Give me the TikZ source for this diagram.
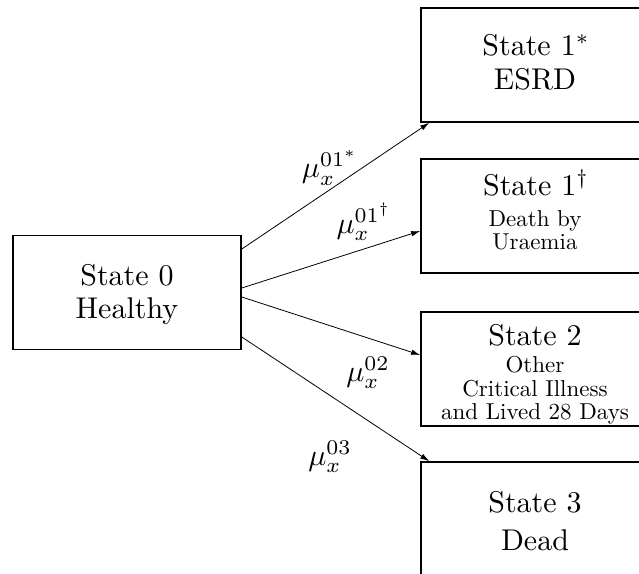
\documentclass[tikz,border=0pt]{standalone}
\usetikzlibrary{arrows.meta}
\begin{document}
\begin{tikzpicture}[x=1pt,y=-1pt,
  statebox/.style={draw, line width=1.6pt, minimum width=228pt, minimum height=114pt, inner sep=0pt},
  big/.style={font=\normalsize, scale=3, anchor=base, inner sep=0pt},
  small/.style={font=\normalsize, scale=2.3, anchor=base, inner sep=0pt},
  rate/.style={font=\normalsize, scale=3, inner sep=0pt},
  trans/.style={line width=0.8pt, -{Latex[length=9pt,width=5.5pt]}}]
\clip (0,0) rectangle (639,573);
% boxes
\node[statebox] (s0)  at (127,292.5) {};
\node[statebox] (s1a) at (535,65) {};
\node[statebox] (s1b) at (535,216) {};
\node[statebox] (s2)  at (535,369) {};
\node[statebox] (s3)  at (535,519) {};
% texts
\node[big] (t0a) at (127,285.7) {State 0};
\node[big] (t0b) at (127,318) {Healthy};
\node[big] (t1a) at (536,55.7) {State 1$^*$};
\node[big] (t1b) at (535,89) {ESRD};
\node[big] (t2a) at (536,195.5) {State 1$^\dagger$};
\node[small] (t2b) at (535,226.5) {Death by};
\node[small] (t2c) at (535,249) {Uraemia};
\node[big] (t3a) at (535,345) {State 2};
\node[small] (t3b) at (535,372) {Other};
\node[small] (t3c) at (535,396) {Critical Illness};
\node[small] (t3d) at (535,419) {and Lived 28 Days};
\node[big] (t4a) at (535,512.7) {State 3};
\node[big] (t4b) at (535,550) {Dead};
% transitions
\draw[trans] ([yshift=43.5pt]s0.east) -- ([xshift=9pt]s1a.south west);
\draw[trans] ([yshift=4.5pt]s0.east) -- ([yshift=-15pt]s1b.west);
\draw[trans] ([yshift=-4.5pt]s0.east) -- ([yshift=14pt]s2.west);
\draw[trans] ([yshift=-44.5pt]s0.east) -- ([xshift=9pt]s3.north west);
% rates
\node[rate] (r1) at (330,168) {$\mu_x^{01^*}$};
\node[rate] (r2) at (364,222) {$\mu_x^{01^\dagger}$};
\node[rate] (r3) at (368,373) {$\mu_x^{02}$};
\node[rate] (r4) at (330,457) {$\mu_x^{03}$};
\end{tikzpicture}
\end{document}
